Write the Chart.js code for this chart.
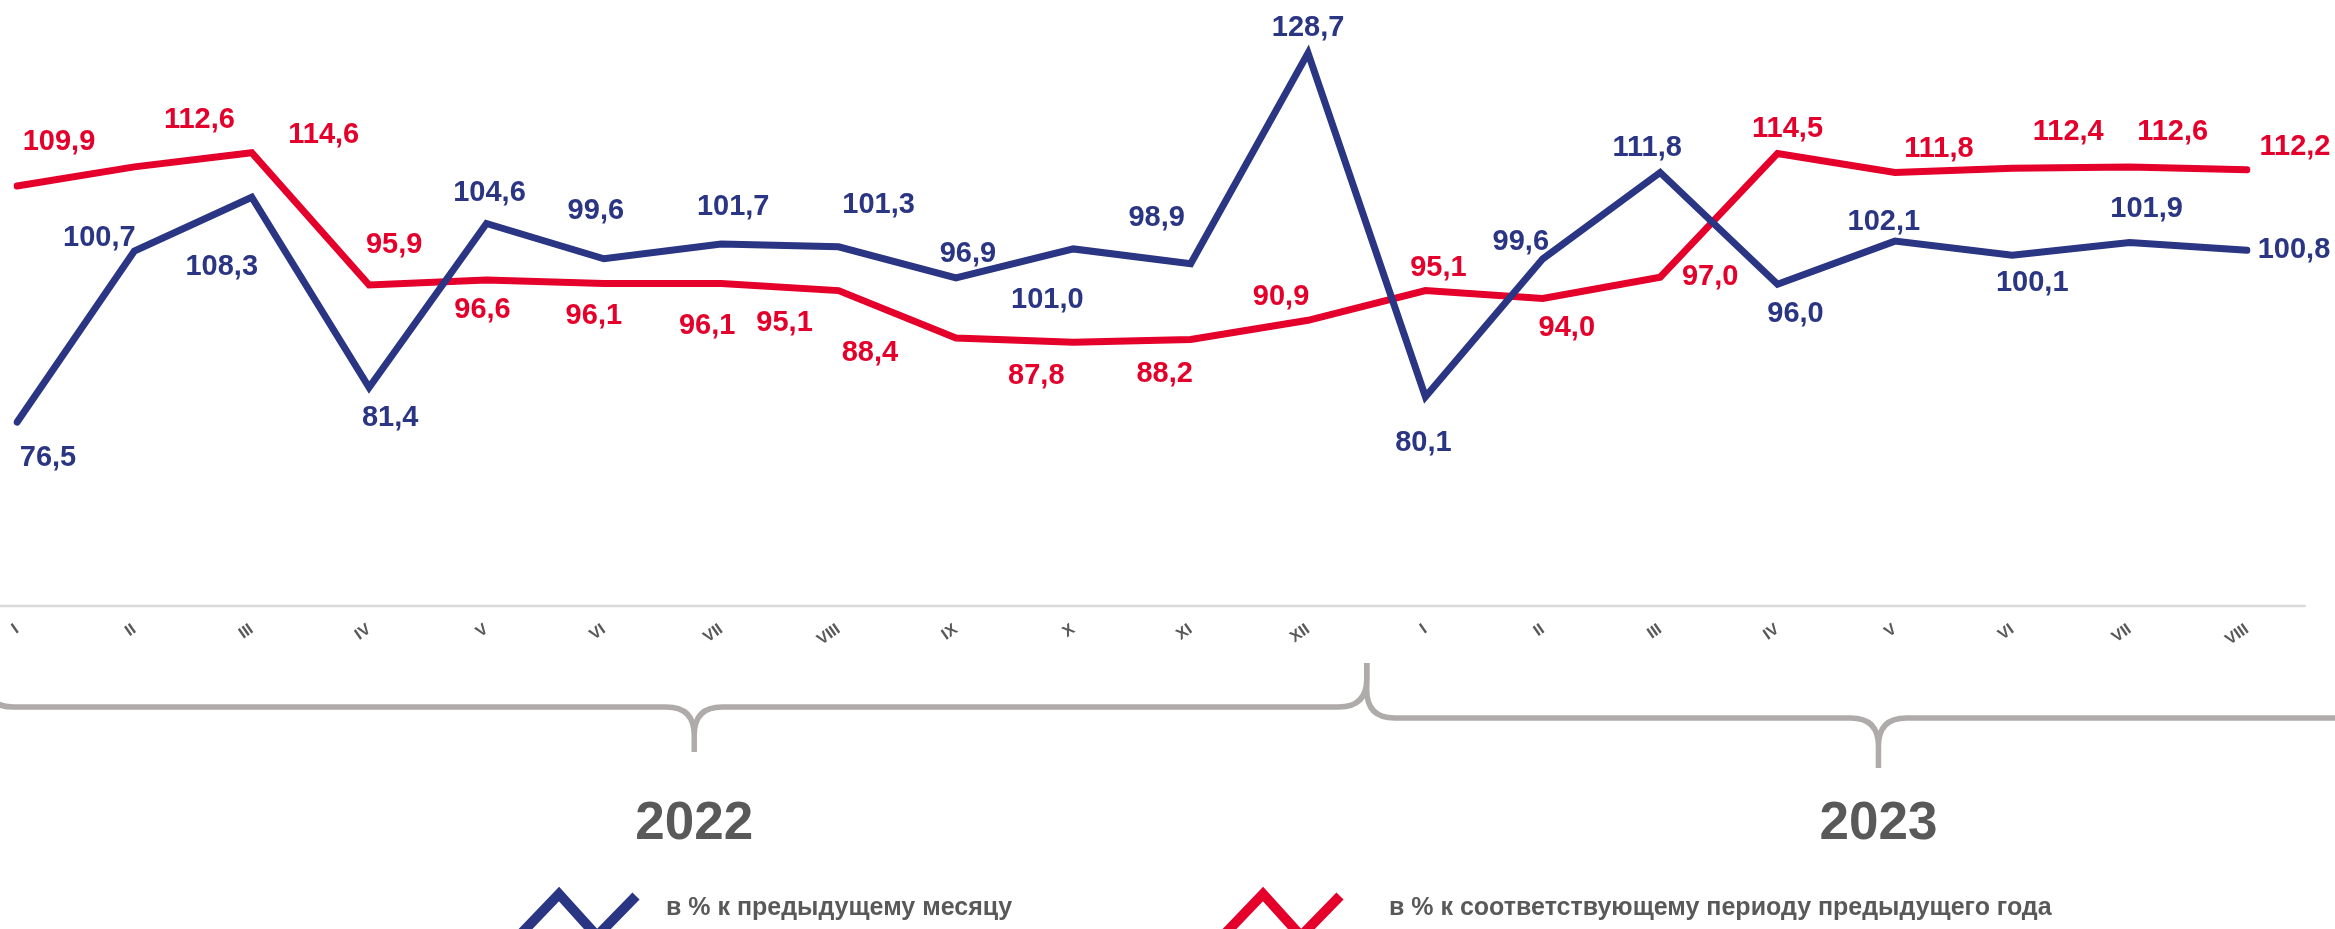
<!DOCTYPE html>
<html>
<head>
<meta charset="utf-8">
<script src="https://cdn.jsdelivr.net/npm/chart.js@4/dist/chart.umd.min.js"></script>
<style>
  html, body { margin: 0; padding: 0; background: #fff; overflow: hidden; }
  #wrap { width: 2335px; height: 929px; }
</style>
</head>
<body>
<div id="wrap"><canvas id="chart" width="2335" height="929"></canvas></div>
<script>
  // месяцы 2022 (I–XII) и 2023 (I–VIII)
  const months = ['I', 'II', 'III', 'IV', 'V', 'VI', 'VII', 'VIII', 'IX', 'X', 'XI', 'XII',
                  'I', 'II', 'III', 'IV', 'V', 'VI', 'VII', 'VIII'];
  const toPrevMonth = [76.5, 100.7, 108.3, 81.4, 104.6, 99.6, 101.7, 101.3, 96.9, 101.0, 98.9, 128.7,
                       80.1, 99.6, 111.8, 96.0, 102.1, 100.1, 101.9, 100.8];
  const toPrevYear = [109.9, 112.6, 114.6, 95.9, 96.6, 96.1, 96.1, 95.1, 88.4, 87.8, 88.2, 90.9,
                      95.1, 94.0, 97.0, 114.5, 111.8, 112.4, 112.6, 112.2];
  const years = ['2022', '2023'];
  const seriesNames = ['в % к предыдущему месяцу', 'в % к соответствующему периоду предыдущего года'];

  const BLUE = '#2a3583';
  const RED = '#e4002b';
  const GREY = '#595959';
  const BRACE = '#afabab';
  const FONT = '"Liberation Sans", Arial, sans-serif';

  // сдвиг подписей значений относительно точки (как в макете)
  const blueNudge = [[31, 36], [-35, -13], [-30, 70], [21, 30], [3, -30], [-8, -48], [12, -37], [40, -42],
                     [12, -24], [-26, 51], [-34, -46], [0, -25], [-2, 46], [-22, -17], [-13, -25], [18, 30],
                     [-11, -19], [20, 28], [17, -34], [47, 0]];
  const redNudge = [[42, -44], [65, -47], [72, -18], [25, -40], [-4, 30], [-10, 32], [-14, 42], [-54, 32],
                    [-86, 15], [-37, 34], [-26, 35], [-27, -23], [13, -23], [24, 30], [50, 0], [10, -24],
                    [44, -24], [56, -36], [43, -35], [48, -23]];

  function fmt(v) { return v.toFixed(1).replace('.', ','); }

  function brace(ctx, xl, xc, xr, y0, yUp, yDown, r) {
    ctx.beginPath();
    ctx.moveTo(xl, yUp);
    ctx.lineTo(xl, y0 - r);
    ctx.quadraticCurveTo(xl, y0, xl + r, y0);
    ctx.lineTo(xc - r, y0);
    ctx.quadraticCurveTo(xc, y0, xc, y0 + r);
    ctx.lineTo(xc, yDown);
    ctx.moveTo(xc, y0 + r);
    ctx.quadraticCurveTo(xc, y0, xc + r, y0);
    ctx.lineTo(xr - r, y0);
    ctx.quadraticCurveTo(xr, y0, xr, y0 - r);
    ctx.lineTo(xr, yUp);
    ctx.stroke();
  }

  function zigzag(ctx, x0, color) {
    ctx.strokeStyle = color;
    ctx.lineWidth = 10;
    ctx.lineJoin = 'miter';
    ctx.lineCap = 'butt';
    ctx.beginPath();
    ctx.moveTo(x0 - 5, 940);
    ctx.lineTo(x0 + 39, 894);
    ctx.lineTo(x0 + 77, 936);
    ctx.lineTo(x0 + 116, 896);
    ctx.stroke();
  }

  const extras = {
    id: 'extras',
    beforeDatasetsDraw(chart) {
      const ctx = chart.ctx, area = chart.chartArea, x = chart.scales.x;
      const b = area.bottom;
      ctx.save();
      // линия оси
      ctx.strokeStyle = '#d9d9d9';
      ctx.lineWidth = 2.5;
      ctx.beginPath();
      ctx.moveTo(0, b);
      ctx.lineTo(x.getPixelForValue(19.5), b);
      ctx.stroke();

      // фигурные скобки годов
      ctx.strokeStyle = BRACE;
      ctx.lineWidth = 5.5;
      ctx.lineCap = 'butt';
      ctx.lineJoin = 'round';
      const cusp = x.getPixelForValue(11.5);
      const c22 = x.getPixelForValue(5.77), c23 = x.getPixelForValue(15.86);
      brace(ctx, x.getPixelForValue(-0.27), c22, cusp, b + 101, b + 57, b + 146, 28);
      brace(ctx, cusp, c23, x.getPixelForValue(20.2), b + 112, b + 57, b + 162, 28);

      ctx.fillStyle = GREY;
      ctx.font = 'bold 53px ' + FONT;
      ctx.textAlign = 'center';
      ctx.textBaseline = 'middle';
      ctx.fillText(years[0], c22, b + 218);
      ctx.fillText(years[1], c23, b + 218);
      ctx.restore();
    },
    afterDatasetsDraw(chart) {
      const ctx = chart.ctx;
      ctx.save();
      ctx.font = 'bold 29px ' + FONT;
      ctx.textAlign = 'center';
      ctx.textBaseline = 'middle';
      const nudges = [blueNudge, redNudge];
      chart.data.datasets.forEach((ds, di) => {
        const meta = chart.getDatasetMeta(di);
        ctx.fillStyle = ds.borderColor;
        meta.data.forEach((pt, i) => {
          const n = nudges[di][i];
          ctx.fillText(fmt(ds.data[i]), pt.x + n[0], pt.y + n[1]);
        });
      });

      // легенда
      zigzag(ctx, 520, BLUE);
      zigzag(ctx, 1224, RED);
      ctx.fillStyle = GREY;
      ctx.font = 'bold 25px ' + FONT;
      ctx.textAlign = 'left';
      ctx.textBaseline = 'alphabetic';
      ctx.fillText(seriesNames[0], 666, 915);
      ctx.fillText(seriesNames[1], 1389, 915);
      ctx.restore();
    }
  };

  new Chart(document.getElementById('chart'), {
    type: 'line',
    data: {
      labels: months,
      datasets: [
        {
          label: seriesNames[0],
          data: toPrevMonth,
          borderColor: BLUE,
          borderWidth: 7,
          borderCapStyle: 'round',
          borderJoinStyle: 'miter',
          pointRadius: 0,
          tension: 0
        },
        {
          label: seriesNames[1],
          data: toPrevYear,
          borderColor: RED,
          borderWidth: 7,
          borderCapStyle: 'round',
          borderJoinStyle: 'miter',
          pointRadius: 0,
          tension: 0
        }
      ]
    },
    options: {
      responsive: false,
      devicePixelRatio: 1,
      animation: false,
      layout: { padding: { left: 17, right: 88, top: 0, bottom: 0 } },
      plugins: { legend: { display: false }, tooltip: { enabled: false } },
      scales: {
        x: {
          grid: { display: false },
          border: { display: false },
          ticks: {
            autoSkip: false,
            minRotation: 35,
            maxRotation: 35,
            padding: 6,
            color: GREY,
            font: { family: FONT, size: 16, weight: 'bold' }
          },
          afterFit(s) { s.height = 323; }
        },
        y: {
          display: false,
          min: 50.5,
          max: 136.2
        }
      }
    },
    plugins: [extras]
  });
</script>
</body>
</html>
